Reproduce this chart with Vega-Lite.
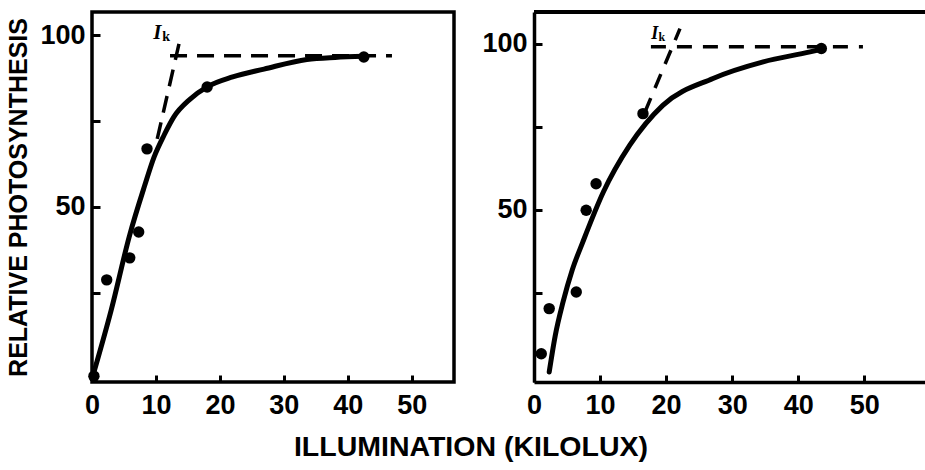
{
  "$schema": "https://vega.github.io/schema/vega-lite/v6.json",
  "padding": {"left": 5, "top": 10, "right": 1, "bottom": 2},
  "background": "white",
  "datasets": {
    "left": [
      {"s": "fit", "g": 0, "x": 0, "y": 0},
      {"s": "fit", "g": 0, "x": 3, "y": 20},
      {"s": "fit", "g": 0, "x": 5.9, "y": 41.9},
      {"s": "fit", "g": 0, "x": 8.2, "y": 56},
      {"s": "fit", "g": 0, "x": 9.7, "y": 64.5},
      {"s": "fit", "g": 0, "x": 11.3, "y": 71},
      {"s": "fit", "g": 0, "x": 12.8, "y": 76.2},
      {"s": "fit", "g": 0, "x": 15.3, "y": 81.3},
      {"s": "fit", "g": 0, "x": 18, "y": 84.9},
      {"s": "fit", "g": 0, "x": 22, "y": 87.8},
      {"s": "fit", "g": 0, "x": 26.9, "y": 90.1},
      {"s": "fit", "g": 0, "x": 33.6, "y": 92.9},
      {"s": "fit", "g": 0, "x": 38, "y": 93.5},
      {"s": "fit", "g": 0, "x": 42.5, "y": 93.8},
      {"s": "dash", "g": 1, "x": 10.2, "y": 69.8},
      {"s": "dash", "g": 1, "x": 13.6, "y": 97.4},
      {"s": "dash", "g": 2, "x": 12.2, "y": 94},
      {"s": "dash", "g": 2, "x": 46.9, "y": 94},
      {"s": "obs", "g": 3, "x": 0.3, "y": 0.8},
      {"s": "obs", "g": 3, "x": 2.3, "y": 28.8},
      {"s": "obs", "g": 3, "x": 5.9, "y": 35.2},
      {"s": "obs", "g": 3, "x": 7.3, "y": 42.7},
      {"s": "obs", "g": 3, "x": 8.6, "y": 66.9},
      {"s": "obs", "g": 3, "x": 18, "y": 84.9},
      {"s": "obs", "g": 3, "x": 42.5, "y": 93.6},
      {"s": "lab", "g": 4, "x": 10.2, "y": 100.5}
    ],
    "right": [
      {"s": "fit", "g": 0, "x": 2.3, "y": 1.2},
      {"s": "fit", "g": 0, "x": 3.2, "y": 12},
      {"s": "fit", "g": 0, "x": 4.4, "y": 22.3},
      {"s": "fit", "g": 0, "x": 5.8, "y": 32},
      {"s": "fit", "g": 0, "x": 7.4, "y": 40.4},
      {"s": "fit", "g": 0, "x": 10.5, "y": 55.4},
      {"s": "fit", "g": 0, "x": 14.5, "y": 69.5},
      {"s": "fit", "g": 0, "x": 19.5, "y": 81.5},
      {"s": "fit", "g": 0, "x": 27.1, "y": 89.6},
      {"s": "fit", "g": 0, "x": 34.7, "y": 94.6},
      {"s": "fit", "g": 0, "x": 41.8, "y": 97.6},
      {"s": "fit", "g": 0, "x": 43.5, "y": 98.4},
      {"s": "dash", "g": 1, "x": 16.8, "y": 79.5},
      {"s": "dash", "g": 1, "x": 22.1, "y": 104.6},
      {"s": "dash", "g": 2, "x": 17.7, "y": 99.1},
      {"s": "dash", "g": 2, "x": 49.8, "y": 99.1},
      {"s": "obs", "g": 3, "x": 1.1, "y": 6.7},
      {"s": "obs", "g": 3, "x": 2.3, "y": 20.3},
      {"s": "obs", "g": 3, "x": 6.4, "y": 25.3},
      {"s": "obs", "g": 3, "x": 7.9, "y": 49.9},
      {"s": "obs", "g": 3, "x": 9.4, "y": 57.9},
      {"s": "obs", "g": 3, "x": 16.5, "y": 79},
      {"s": "obs", "g": 3, "x": 43.5, "y": 98.6},
      {"s": "lab", "g": 4, "x": 18.3, "y": 103}
    ]
  },
  "config": {
    "font": "Liberation Sans",
    "view": {"stroke": "black", "strokeWidth": 3.5},
    "axis": {
      "grid": false,
      "labelFont": "Liberation Sans",
      "labelFontWeight": "bold",
      "labelFontSize": 27,
      "labelColor": "black",
      "tickColor": "black",
      "tickWidth": 3,
      "domainColor": "black",
      "domainWidth": 3.5,
      "titleFont": "Liberation Sans",
      "titleFontWeight": "bold",
      "titleFontSize": 25,
      "titleColor": "black"
    }
  },
  "title": {
    "text": "ILLUMINATION (KILOLUX)",
    "orient": "bottom",
    "anchor": "middle",
    "font": "Liberation Sans",
    "fontWeight": "bold",
    "fontSize": 28.5,
    "color": "black",
    "offset": 13,
    "dx": 4
  },
  "spacing": 25,
  "hconcat": [
    {
      "width": 362,
      "height": 370,
      "data": {"name": "left"},
      "encoding": {
        "x": {"field": "x", "type": "quantitative",
              "scale": {"domain": [0, 56.6], "nice": false, "zero": false},
              "axis": {"title": null, "values": [0, 10, 20, 30, 40, 50], "domain": false, "tickSize": -7, "labelPadding": 17, "labelFlush": false}},
        "y": {"field": "y", "type": "quantitative",
              "scale": {"domain": [-0.9, 106.7], "nice": false, "zero": false},
              "axis": {"title": "RELATIVE PHOTOSYNTHESIS", "values": [25, 50, 75, 100], "domain": false, "tickSize": -8, "labelPadding": 15, "titlePadding": 8,
                       "labelExpr": "datum.value == 50 || datum.value == 100 ? datum.label : ''", "labelFlush": false}}
      },
      "layer": [
        {"transform": [{"filter": "datum.s == 'fit'"}],
         "mark": {"type": "line", "color": "black", "strokeWidth": 5, "interpolate": "monotone", "strokeCap": "round"}},
        {"transform": [{"filter": "datum.s == 'dash'"}],
         "mark": {"type": "line", "color": "black", "strokeWidth": 3.5, "strokeDash": [17, 10]},
         "encoding": {"detail": {"field": "g"}}},
        {"transform": [{"filter": "datum.s == 'obs'"}],
         "mark": {"type": "circle", "color": "black", "opacity": 1, "size": 130}},
        {"transform": [{"filter": "datum.s == 'lab'"}],
         "mark": {"type": "text", "text": "I", "font": "Liberation Serif", "fontStyle": "italic", "fontWeight": "bold", "fontSize": 21, "color": "black"}},
        {"transform": [{"filter": "datum.s == 'lab'"}],
         "mark": {"type": "text", "text": "k", "font": "Liberation Serif", "fontWeight": "bold", "fontSize": 14, "color": "black", "dx": 9, "dy": 4}}
      ]
    },
    {
      "width": 393,
      "height": 370,
      "data": {"name": "right"},
      "view": {"stroke": null},
      "encoding": {
        "x": {"field": "x", "type": "quantitative",
              "scale": {"domain": [0, 59.5], "nice": false, "zero": false},
              "axis": {"title": null, "values": [0, 10, 20, 30, 40, 50], "domain": true, "tickSize": -7, "labelPadding": 17, "labelFlush": false}},
        "y": {"field": "y", "type": "quantitative",
              "scale": {"domain": [-1.8, 109.6], "nice": false, "zero": false},
              "axis": {"title": null, "values": [25, 50, 75, 100], "domain": true, "tickSize": -8, "labelPadding": 15,
                       "labelExpr": "datum.value == 50 || datum.value == 100 ? datum.label : ''", "labelFlush": false}}
      },
      "layer": [
        {"mark": {"type": "rule", "color": "black", "strokeWidth": 3.5},
         "encoding": {"x": null, "y": {"datum": 109.6, "type": "quantitative"}}},
        {"transform": [{"filter": "datum.s == 'fit'"}],
         "mark": {"type": "line", "color": "black", "strokeWidth": 5, "interpolate": "monotone", "strokeCap": "round"}},
        {"transform": [{"filter": "datum.s == 'dash'"}],
         "mark": {"type": "line", "color": "black", "strokeWidth": 3.5, "strokeDash": [15, 11]},
         "encoding": {"detail": {"field": "g"}}},
        {"transform": [{"filter": "datum.s == 'obs'"}],
         "mark": {"type": "circle", "color": "black", "opacity": 1, "size": 130}},
        {"transform": [{"filter": "datum.s == 'lab'"}],
         "mark": {"type": "text", "text": "I", "font": "Liberation Serif", "fontStyle": "italic", "fontWeight": "bold", "fontSize": 18, "color": "black"}},
        {"transform": [{"filter": "datum.s == 'lab'"}],
         "mark": {"type": "text", "text": "k", "font": "Liberation Serif", "fontWeight": "bold", "fontSize": 12, "color": "black", "dx": 7, "dy": 3}}
      ]
    }
  ]
}
